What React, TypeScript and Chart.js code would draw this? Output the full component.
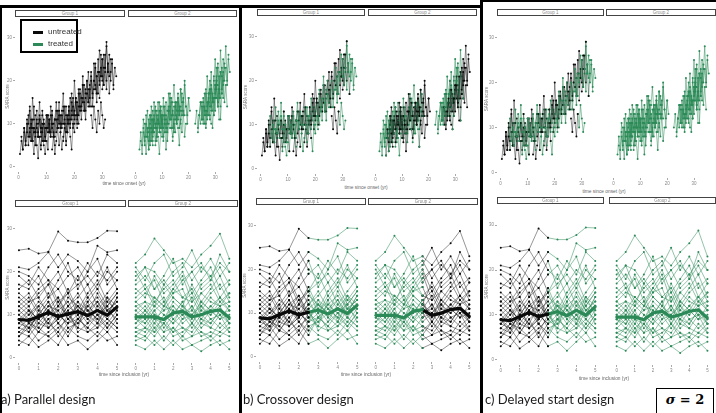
import React, { useEffect, useRef } from "react";
import { Chart, registerables } from "chart.js";
Chart.register(...registerables);

// ---------------- DATA ----------------
const inclusionTimes = [0, 0.5, 1, 1.5, 2, 2.5, 3, 3.5, 4, 4.5, 5];
const switchTime = 2.5;
const yTicks = [0, 10, 20, 30];
const onsetTicks = [0, 10, 20, 30];
const inclusionTicks = [0, 1, 2, 3, 4, 5];
const groupLabels = ["Group 1", "Group 2"];
const designCaptions = ["a) Parallel design", "b) Crossover design", "c) Delayed start design"];

// Group 1 – SARA score vs time since inclusion
const inclusionG1: number[][] = [
  [25, 25.3, 24.2, 24.6, 29.3, 27.2, 26.8, 26.8, 27.8, 29.5, 29.4],
  [21, 20.5, 22, 24.5, 21, 24, 22.5, 20, 26, 24.5, 25],
  [20, 19, 17, 21, 24, 20, 18, 22, 19, 24, 22],
  [17, 16, 19, 14, 18, 22, 16, 20, 23, 17, 20],
  [15, 13, 16, 18, 13, 15, 19, 14, 17, 21, 16],
  [13, 15, 11, 14, 16, 12, 14, 17, 12, 15, 18],
  [12, 10, 13, 11, 9, 14, 12, 10, 15, 11, 13],
  [11, 9, 12, 15, 10, 8, 13, 11, 9, 14, 12],
  [10, 8, 9, 12, 11, 13, 9, 12, 10, 8, 11],
  [9, 11, 7, 10, 13, 9, 11, 8, 12, 10, 14],
  [8, 7, 10, 8, 6, 10, 12, 9, 7, 11, 9],
  [7, 9, 6, 9, 11, 7, 8, 10, 13, 9, 7],
  [6, 5, 8, 7, 9, 11, 6, 8, 10, 7, 10],
  [5, 7, 4, 6, 8, 5, 9, 7, 5, 8, 6],
  [4, 3, 6, 5, 3, 7, 5, 4, 6, 4, 5],
  [3, 5, 2.5, 4, 6, 3, 4, 2, 4, 6, 3],
  [14, 12, 15, 17, 12, 16, 11, 15, 18, 13, 16],
  [9, 6, 11, 8, 12, 10, 7, 13, 8, 12, 15],
  [10, 12, 8, 11, 14, 9, 12, 10, 8, 13, 11],
  [8, 10, 12, 7, 9, 12, 10, 14, 11, 9, 12],
  [12, 14, 10, 13, 9, 12, 15, 11, 13, 10, 14],
  [7, 6, 9, 11, 8, 6, 9, 7, 10, 12, 8],
  [11, 13, 14, 10, 12, 15, 10, 13, 16, 12, 15],
  [6, 8, 7, 5, 7, 9, 7, 6, 8, 6, 9],
  [9, 7, 10, 13, 8, 11, 13, 9, 11, 14, 10],
  [13, 11, 9, 12, 14, 10, 8, 12, 14, 11, 13],
  [16, 18, 14, 17, 20, 15, 17, 19, 16, 20, 18],
  [5, 8, 6, 9, 5, 8, 10, 6, 7, 9, 7],
  [19, 17, 21, 18, 16, 19, 21, 17, 20, 18, 21],
  [8, 11, 9, 7, 10, 8, 9, 11, 9, 7, 10],
];
const meanG1 = [8.9, 8.7, 9.6, 10.5, 9.6, 10.2, 10.7, 9.8, 11.0, 9.9, 11.8];

// Group 2 – SARA score vs time since inclusion
const inclusionG2: number[][] = [
  [22, 24, 27.7, 25, 22, 23, 21, 24, 26, 28.8, 23],
  [21, 18, 22, 24, 19, 21, 25, 20, 23, 19, 22],
  [18, 21, 16, 19, 23, 17, 20, 22, 18, 24, 20],
  [16, 14, 19, 15, 17, 20, 15, 18, 21, 16, 18],
  [14, 16, 12, 17, 14, 12, 17, 13, 16, 19, 14],
  [13, 11, 14, 12, 15, 16, 11, 15, 13, 12, 15],
  [12, 13, 10, 9, 13, 11, 14, 10, 12, 14, 11],
  [11, 9, 12, 10, 8, 12, 9, 13, 11, 9, 10],
  [10, 12, 9, 11, 12, 9, 12, 9, 8, 11, 9],
  [9, 8, 11, 7, 10, 13, 8, 11, 10, 12, 8],
  [8, 10, 7, 9, 6, 9, 10, 7, 9, 7, 9],
  [7, 6, 9, 6, 9, 7, 6, 9, 7, 10, 6],
  [6, 7, 5, 8, 5, 6, 8, 5, 6, 5, 7],
  [5, 4, 7, 4, 7, 4, 5, 6, 4, 6, 5],
  [4, 5, 3, 5, 3, 5, 3, 4, 5, 3, 4],
  [3, 2, 4, 2, 4, 2, 3, 1.5, 3, 4, 2],
  [15, 17, 13, 16, 18, 14, 16, 12, 15, 17, 13],
  [20, 16, 18, 13, 16, 19, 13, 17, 19, 14, 17],
  [10, 8, 11, 13, 9, 11, 8, 12, 10, 13, 11],
  [8, 11, 9, 8, 11, 10, 12, 8, 11, 9, 12],
  [12, 10, 13, 11, 14, 12, 10, 13, 11, 14, 12],
  [7, 9, 6, 10, 8, 10, 7, 10, 8, 11, 8],
  [11, 13, 12, 14, 10, 13, 15, 11, 14, 12, 13],
  [6, 5, 8, 6, 7, 5, 8, 6, 5, 8, 6],
  [9, 11, 8, 12, 11, 8, 10, 12, 9, 10, 11],
  [13, 15, 14, 12, 16, 14, 13, 15, 17, 13, 15],
  [17, 19, 16, 18, 15, 18, 20, 16, 18, 21, 17],
  [5, 7, 6, 8, 6, 7, 5, 8, 7, 6, 8],
  [19, 21, 20, 17, 20, 22, 18, 21, 19, 22, 20],
  [9, 7, 10, 9, 12, 10, 11, 9, 12, 10, 8],
];
const meanG2 = [9.5, 9.5, 9.5, 8.9, 10.4, 10.8, 9.5, 10.0, 10.8, 11.1, 9.3];

// Group 1 – time since onset at inclusion (yr) of each patient, and SARA scores
const onsetAtInclusionG1 = [0.5, 2, 3.5, 5, 6, 8, 10, 12, 14, 16, 18, 20, 23, 25, 27, 29, 1, 4, 7, 9, 11, 13, 15, 17, 19, 21, 24, 26, 28, 30];
const onsetScoresG1: number[][] = [
  [3, 6, 4, 9, 5, 8, 12, 7, 10, 6, 9],
  [8, 5, 11, 7, 13, 6, 9, 14, 8, 11, 7],
  [10, 14, 9, 16, 11, 8, 13, 10, 15, 9, 12],
  [6, 3, 8, 5, 2, 7, 4, 9, 5, 3, 6],
  [12, 9, 7, 11, 8, 13, 10, 6, 9, 12, 8],
  [5, 8, 11, 6, 9, 4, 10, 7, 12, 8, 5],
  [9, 12, 8, 14, 10, 7, 11, 15, 9, 13, 10],
  [4, 7, 3, 6, 9, 5, 8, 4, 7, 10, 6],
  [11, 15, 9, 13, 17, 10, 14, 8, 12, 16, 11],
  [6, 9, 5, 8, 11, 7, 4, 10, 8, 12, 9],
  [14, 10, 17, 12, 20, 15, 11, 18, 13, 16, 19],
  [12, 16, 10, 14, 18, 13, 21, 15, 11, 17, 14],
  [15, 19, 13, 17, 22, 16, 20, 14, 18, 23, 17],
  [18, 14, 21, 17, 24, 19, 15, 22, 20, 26, 21],
  [20, 24, 17, 22, 27, 21, 25, 19, 23, 28, 22],
  [16, 21, 25, 19, 23, 29, 22, 26, 20, 24, 18],
  [7, 4, 9, 6, 10, 5, 8, 11, 6, 9, 7],
  [9, 6, 11, 8, 5, 10, 7, 12, 9, 6, 10],
  [8, 11, 7, 10, 6, 9, 12, 8, 11, 7, 10],
  [10, 7, 12, 9, 11, 8, 13, 10, 7, 11, 9],
  [8, 12, 9, 7, 11, 13, 9, 12, 8, 10, 13],
  [11, 8, 13, 10, 12, 9, 14, 11, 8, 12, 10],
  [9, 12, 10, 14, 8, 11, 13, 9, 12, 14, 10],
  [12, 10, 14, 11, 15, 9, 13, 16, 12, 10, 14],
  [13, 16, 11, 15, 12, 17, 14, 11, 16, 13, 18],
  [15, 12, 17, 14, 19, 13, 16, 20, 15, 18, 14],
  [17, 20, 15, 19, 22, 16, 20, 18, 21, 17, 22],
  [12, 9, 14, 11, 8, 13, 10, 15, 12, 9, 11],
  [21, 25, 19, 23, 20, 26, 22, 18, 24, 21, 25],
  [18, 23, 26, 20, 24, 17, 22, 25, 19, 23, 21],
];

// Group 2 – time since onset at inclusion (yr) of each patient, and SARA scores
const onsetAtInclusionG2 = [1.5, 3, 4.5, 6, 7.5, 9, 11, 12.5, 14, 15.5, 23.5, 25, 26.5, 28, 29.5, 30.5, 2, 3.5, 5, 6.5, 8, 10, 12, 13.5, 15, 22.5, 24, 25.5, 27, 28.5, 30];
const onsetScoresG2: number[][] = [
  [4, 8, 5, 11, 7, 3, 9, 6, 12, 8, 5],
  [9, 6, 12, 8, 4, 10, 14, 7, 11, 9, 13],
  [7, 11, 5, 9, 13, 8, 6, 12, 10, 15, 9],
  [12, 8, 15, 10, 6, 11, 9, 14, 7, 12, 10],
  [5, 9, 7, 3, 8, 11, 6, 10, 4, 9, 13],
  [10, 14, 9, 16, 12, 8, 13, 17, 11, 15, 12],
  [8, 12, 6, 10, 14, 9, 7, 11, 15, 10, 13],
  [13, 17, 11, 15, 19, 14, 10, 16, 12, 18, 15],
  [6, 10, 8, 12, 9, 5, 11, 8, 13, 7, 10],
  [11, 15, 9, 13, 17, 12, 20, 14, 10, 16, 13],
  [8, 12, 10, 15, 11, 14, 9, 13, 16, 12, 10],
  [14, 10, 17, 12, 21, 15, 11, 18, 13, 16, 19],
  [10, 15, 12, 18, 14, 9, 16, 13, 19, 15, 11],
  [17, 22, 15, 20, 25, 18, 14, 21, 16, 23, 19],
  [12, 16, 20, 14, 18, 11, 17, 22, 15, 19, 14],
  [19, 24, 17, 27, 21, 16, 23, 28, 20, 25, 22],
  [6, 3, 8, 5, 10, 7, 4, 9, 6, 11, 8],
  [10, 7, 13, 9, 6, 11, 8, 12, 10, 7, 11],
  [8, 12, 9, 6, 11, 14, 9, 12, 8, 13, 10],
  [11, 9, 13, 10, 15, 8, 12, 10, 14, 11, 9],
  [7, 10, 13, 9, 12, 7, 11, 15, 10, 13, 9],
  [12, 9, 14, 11, 8, 13, 16, 12, 9, 14, 11],
  [10, 14, 11, 16, 12, 9, 15, 13, 17, 12, 14],
  [9, 13, 8, 12, 15, 11, 14, 10, 13, 16, 12],
  [14, 11, 16, 13, 18, 12, 15, 19, 14, 12, 16],
  [10, 13, 9, 12, 15, 11, 14, 10, 13, 11, 15],
  [12, 15, 11, 16, 13, 17, 12, 15, 18, 14, 16],
  [15, 12, 18, 14, 17, 20, 13, 17, 15, 19, 16],
  [13, 17, 14, 19, 16, 12, 18, 21, 15, 18, 14],
  [18, 15, 21, 17, 23, 19, 16, 22, 18, 20, 24],
  [16, 20, 23, 18, 22, 17, 25, 20, 23, 19, 26],
];

// ---------------- STYLE ----------------
const BLACK = "#0a0a0a";
const GREEN = "#2b8a57";
const LINE_COL: Record<string, string> = {
  [BLACK]: "rgba(10,10,10,0.72)",
  [GREEN]: "rgba(43,138,87,0.85)",
};
const FONT = "'Liberation Sans', 'DejaVu Sans', sans-serif";
const XH = 9;
const STRIP_H = 7;
const Y_RANGE = [-1.2, 33.85];
const ONSET_RANGE = [-1.3, 36.7];
const INCL_RANGE = [-0.2, 5.25];

type Mode = "black" | "green" | "blackGreen" | "greenBlack";

function split(xs: number[], ys: number[], mode: Mode) {
  const pts = xs.map((x, i) => ({ x, y: ys[i] }));
  const k = inclusionTimes.indexOf(switchTime);
  if (mode === "black") return [{ color: BLACK, pts }];
  if (mode === "green") return [{ color: GREEN, pts }];
  const a = pts.slice(0, k + 1);
  const b = pts.slice(k);
  return mode === "blackGreen"
    ? [{ color: BLACK, pts: a }, { color: GREEN, pts: b }]
    : [{ color: GREEN, pts: a }, { color: BLACK, pts: b }];
}

function buildSets(rows: number[][], offsets: number[] | null, mode: Mode, mean: number[] | null) {
  const sets: any[] = [];
  if (mean) {
    split(inclusionTimes, mean, mode).forEach((s) => {
      sets.push({
        data: s.pts,
        showLine: true,
        borderColor: s.color,
        backgroundColor: s.color,
        borderWidth: 3.2,
        pointRadius: 1.4,
        pointBorderWidth: 0,
      });
    });
  }
  rows.forEach((ys, i) => {
    const xs = inclusionTimes.map((t) => (offsets ? offsets[i] + t : t));
    split(xs, ys, mode).forEach((s) => {
      sets.push({
        data: s.pts,
        showLine: true,
        borderColor: LINE_COL[s.color],
        backgroundColor: s.color,
        borderWidth: 0.6,
        pointRadius: 1,
        pointBorderWidth: 0,
      });
    });
  });
  return sets;
}

function Facet(props: {
  left: number; right: number; top: number; bottom: number; yW: number; showY: boolean;
  xRange: number[]; xTicks: number[]; sets: any[];
}) {
  const ref = useRef<HTMLCanvasElement>(null);
  const { left, right, top, bottom, yW, showY, xRange, xTicks, sets } = props;
  const w = Math.round(right - left + (showY ? yW : 0));
  const h = Math.round(bottom - top + XH);
  useEffect(() => {
    const chart = new Chart(ref.current!, {
      type: "scatter",
      data: { datasets: sets },
      options: {
        animation: false,
        responsive: false,
        devicePixelRatio: 1,
        layout: { padding: 0 },
        plugins: { legend: { display: false }, tooltip: { enabled: false } },
        scales: {
          x: {
            type: "linear",
            min: xRange[0],
            max: xRange[1],
            afterBuildTicks: (s: any) => { s.ticks = xTicks.map((v) => ({ value: v })); },
            afterFit: (s: any) => { s.height = XH; },
            grid: { drawOnChartArea: false, drawTicks: true, tickLength: 2, color: "#aaa" },
            border: { display: false },
            ticks: { font: { size: 4.5, family: FONT }, color: "#888", padding: 1, maxRotation: 0, autoSkip: false },
          },
          y: {
            type: "linear",
            display: showY,
            min: Y_RANGE[0],
            max: Y_RANGE[1],
            afterBuildTicks: (s: any) => { s.ticks = yTicks.map((v) => ({ value: v })); },
            afterFit: (s: any) => { s.width = showY ? yW : 0; },
            grid: { drawOnChartArea: false, drawTicks: true, tickLength: 2, color: "#aaa" },
            border: { display: false },
            title: { display: true, text: "SARA score", font: { size: 4.5, family: FONT }, color: "#777", padding: 0 },
            ticks: { font: { size: 4.5, family: FONT }, color: "#888", padding: 1, autoSkip: false },
          },
        },
      } as any,
    });
    return () => chart.destroy();
  }, []);
  return (
    <canvas
      ref={ref}
      width={w}
      height={h}
      style={{ position: "absolute", left: Math.round(left - (showY ? yW : 0)), top: Math.round(top), width: w, height: h }}
    />
  );
}

function Strip({ left, right, top, text }: { left: number; right: number; top: number; text: string }) {
  return (
    <div
      style={{
        position: "absolute", left, top, width: right - left, height: STRIP_H, boxSizing: "border-box",
        border: "1px solid #444", background: "#fff", fontFamily: FONT, fontSize: 4.5, color: "#888",
        textAlign: "center", lineHeight: `${STRIP_H - 2}px`, overflow: "hidden",
      }}
    >
      {text}
    </div>
  );
}

function XLabel({ x, y, text }: { x: number; y: number; text: string }) {
  return (
    <div
      style={{
        position: "absolute", left: x, top: y, transform: "translate(-50%,-50%)", whiteSpace: "nowrap",
        fontFamily: FONT, fontSize: 4.8, color: "#666",
      }}
    >
      {text}
    </div>
  );
}

const layout = [
  {
    yW: 10,
    top: { strip: 10, plotTop: 17, plotBottom: 172, f: [[15, 125], [128, 237]], labelY: 183, labelX: 124 },
    bot: { strip: 200, plotTop: 208, plotBottom: 363, f: [[15, 126], [128, 238]], labelY: 374, labelX: 124 },
    modes: { top: ["black", "green"], bot: ["black", "green"] },
    capX: 1,
  },
  {
    yW: 14,
    top: { strip: 9, plotTop: 16, plotBottom: 174, f: [[257, 365], [368, 477]], labelY: 187, labelX: 366 },
    bot: { strip: 198, plotTop: 205, plotBottom: 362, f: [[256, 366], [368, 478]], labelY: 374, labelX: 366 },
    modes: { top: ["blackGreen", "greenBlack"], bot: ["blackGreen", "greenBlack"] },
    capX: 243,
  },
  {
    yW: 13,
    top: { strip: 9, plotTop: 16, plotBottom: 178, f: [[497, 604], [606, 716]], labelY: 191, labelX: 604 },
    bot: { strip: 197, plotTop: 204, plotBottom: 365, f: [[497, 604], [609, 716]], labelY: 378, labelX: 604 },
    modes: { top: ["blackGreen", "green"], bot: ["blackGreen", "green"] },
    capX: 485,
  },
];

export default function App() {
  const els: any[] = [];
  layout.forEach((col, ci) => {
    (["top", "bot"] as const).forEach((row) => {
      const p = col[row];
      p.f.forEach(([l, r], gi) => {
        const mode = col.modes[row][gi] as Mode;
        const sets =
          row === "top"
            ? buildSets(gi === 0 ? onsetScoresG1 : onsetScoresG2, gi === 0 ? onsetAtInclusionG1 : onsetAtInclusionG2, mode, null)
            : buildSets(gi === 0 ? inclusionG1 : inclusionG2, null, mode, gi === 0 ? meanG1 : meanG2);
        els.push(
          <Facet
            key={`f-${ci}-${row}-${gi}`}
            left={l} right={r} top={p.plotTop} bottom={p.plotBottom} yW={col.yW} showY={gi === 0}
            xRange={row === "top" ? ONSET_RANGE : INCL_RANGE}
            xTicks={row === "top" ? onsetTicks : inclusionTicks}
            sets={sets}
          />
        );
        els.push(<Strip key={`s-${ci}-${row}-${gi}`} left={l} right={r} top={p.strip} text={groupLabels[gi]} />);
      });
      els.push(
        <XLabel key={`x-${ci}-${row}`} x={p.labelX} y={p.labelY}
          text={row === "top" ? "time since onset (yr)" : "time since inclusion (yr)"} />
      );
    });
    els.push(
      <div key={`cap-${ci}`} style={{ position: "absolute", left: col.capX, top: 392, fontFamily: "Lato, 'Open Sans', sans-serif", fontSize: 13, color: "#1a1a1a", whiteSpace: "nowrap", lineHeight: "14px" }}>
        {designCaptions[ci]}
      </div>
    );
  });

  return (
    <div style={{ position: "fixed", left: 0, top: 0, width: 716, height: 413, background: "#fff", overflow: "hidden" }}>
      {els}
      {/* frame lines */}
      <div style={{ position: "absolute", left: 0, top: 5, width: 482, height: 3, background: "#000" }} />
      <div style={{ position: "absolute", left: 482, top: 0, width: 234, height: 2, background: "#000" }} />
      <div style={{ position: "absolute", left: 0, top: 5, width: 2, height: 408, background: "#000" }} />
      <div style={{ position: "absolute", left: 239, top: 5, width: 3, height: 408, background: "#000" }} />
      <div style={{ position: "absolute", left: 480, top: 0, width: 3, height: 413, background: "#000" }} />
      {/* legend */}
      <div style={{ position: "absolute", left: 20, top: 19, width: 58, height: 34, boxSizing: "border-box", border: "2px solid #000", background: "#fff" }}>
        <div style={{ position: "absolute", left: 11, top: 10, width: 10, height: 2.5, background: BLACK }} />
        <div style={{ position: "absolute", left: 26, top: 6, fontFamily: FONT, fontSize: 8, color: "#333", lineHeight: "10px" }}>untreated</div>
        <div style={{ position: "absolute", left: 11, top: 22, width: 10, height: 2.5, background: GREEN }} />
        <div style={{ position: "absolute", left: 26, top: 18, fontFamily: FONT, fontSize: 8, color: "#333", lineHeight: "10px" }}>treated</div>
      </div>
      {/* sigma box */}
      <div style={{ position: "absolute", left: 656, top: 388, width: 58, height: 30, boxSizing: "border-box", border: "1.5px solid #000", background: "#fff", textAlign: "center", fontFamily: "'DejaVu Serif', serif", fontWeight: "bold", fontSize: 13, lineHeight: "22px", color: "#000" }}>
        <i>σ</i> = 2
      </div>
    </div>
  );
}
